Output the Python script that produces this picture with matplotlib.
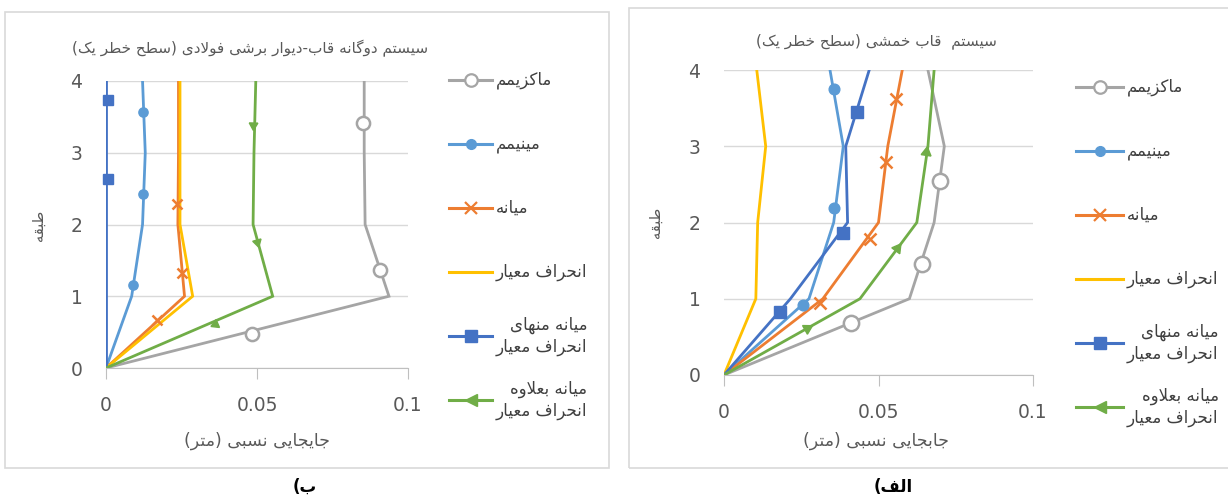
import math
import matplotlib
matplotlib.use("Agg")
import matplotlib.pyplot as plt
from matplotlib.lines import Line2D
from matplotlib.patches import Rectangle

plt.rcParams['font.family'] = ['DejaVu Sans']

# storey levels
floors = [0, 1, 2, 3, 4]

# panel (b): dual frame / steel plate shear wall system
b_max = [0, 0.0937, 0.0858, 0.0855, 0.0855]
b_min = [0, 0.0085, 0.0121, 0.0130, 0.0121]
b_med = [0, 0.0260, 0.0238, 0.0240, 0.0240]
b_std = [0, 0.0287, 0.0245, 0.0245, 0.0245]
b_msd = [0, 0, 0, 0, 0]
b_psd = [0, 0.0552, 0.0487, 0.0490, 0.0496]

# marker positions
b_max_mk = [(0.0483, 0.48), (0.0908, 1.37), (0.0852, 3.42)]
b_min_mk = [(0.0090, 1.15), (0.0122, 2.42), (0.0122, 3.57)]
b_med_mk = [(0.0170, 0.67), (0.0250, 1.32), (0.0236, 2.29)]
b_msd_mk = [(0.0008, 2.63), (0.0008, 3.73)]
b_psd_mk = [(0.0361, 0.61), (0.0499, 1.76), (0.0488, 3.39)]

# panel (a): moment frame system
a_max = [0, 0.0600, 0.0680, 0.0713, 0.0660]
a_min = [0, 0.0275, 0.0355, 0.0386, 0.0343]
a_med = [0, 0.0320, 0.0500, 0.0530, 0.0577]
a_std = [0, 0.0103, 0.0109, 0.0135, 0.0106]
a_msd = [0, 0.0215, 0.0400, 0.0394, 0.0470]
a_psd = [0, 0.0440, 0.0624, 0.0660, 0.0680]

a_max_mk = [(0.0411, 0.68), (0.0641, 1.46), (0.0699, 2.55)]
a_min_mk = [(0.0255, 0.92), (0.0357, 2.19), (0.0355, 3.75)]
a_med_mk = [(0.0311, 0.94), (0.0472, 1.78), (0.0523, 2.80), (0.0558, 3.62)]
a_msd_mk = [(0.0181, 0.83), (0.0384, 1.86), (0.0429, 3.45)]
a_psd_mk = [(0.0268, 0.61), (0.0559, 1.66), (0.0653, 2.92)]

labels = ['ماکزیمم', 'مینیمم', 'میانه', 'انحراف معیار',
          'میانه منهای\nانحراف معیار', 'میانه بعلاوه\nانحراف معیار']
colors = ['#A5A5A5', '#5B9BD5', '#ED7D31', '#FFC000', '#4472C4', '#70AD47']

title_b = 'سیستم دوگانه قاب-دیوار برشی فولادی (سطح خطر یک)'
title_a = 'سیستم  قاب خمشی (سطح خطر یک)'
xlabel_b = 'جایجایی نسبی (متر)'
xlabel_a = 'جابجایی نسبی (متر)'
ylabel = 'طبقه'
cap_b = 'ب)'
cap_a = 'الف)'

# --- minimal Persian shaping (matplotlib has no complex text layout) ---
FORMS = {
    'ا': ('\uFE8D', '\uFE8E', None, None),
    'ب': ('\uFE8F', '\uFE90', '\uFE91', '\uFE92'),
    'ت': ('\uFE95', '\uFE96', '\uFE97', '\uFE98'),
    'ج': ('\uFE9D', '\uFE9E', '\uFE9F', '\uFEA0'),
    'ح': ('\uFEA1', '\uFEA2', '\uFEA3', '\uFEA4'),
    'خ': ('\uFEA5', '\uFEA6', '\uFEA7', '\uFEA8'),
    'د': ('\uFEA9', '\uFEAA', None, None),
    'ر': ('\uFEAD', '\uFEAE', None, None),
    'ز': ('\uFEAF', '\uFEB0', None, None),
    'س': ('\uFEB1', '\uFEB2', '\uFEB3', '\uFEB4'),
    'ش': ('\uFEB5', '\uFEB6', '\uFEB7', '\uFEB8'),
    'ط': ('\uFEC1', '\uFEC2', '\uFEC3', '\uFEC4'),
    'ع': ('\uFEC9', '\uFECA', '\uFECB', '\uFECC'),
    'ف': ('\uFED1', '\uFED2', '\uFED3', '\uFED4'),
    'ق': ('\uFED5', '\uFED6', '\uFED7', '\uFED8'),
    'ک': ('\uFB8E', '\uFB8F', '\uFB90', '\uFB91'),
    'گ': ('\uFB92', '\uFB93', '\uFB94', '\uFB95'),
    'ل': ('\uFEDD', '\uFEDE', '\uFEDF', '\uFEE0'),
    'م': ('\uFEE1', '\uFEE2', '\uFEE3', '\uFEE4'),
    'ن': ('\uFEE5', '\uFEE6', '\uFEE7', '\uFEE8'),
    'ه': ('\uFEE9', '\uFEEA', '\uFEEB', '\uFEEC'),
    'و': ('\uFEED', '\uFEEE', None, None),
    'ی': ('\uFBFC', '\uFBFD', '\uFBFE', '\uFBFF'),
}


def dual(c):
    return c in FORMS and FORMS[c][2] is not None


def fa_line(s):
    res = []
    i = 0
    while i < len(s):
        c = s[i]
        jp = i > 0 and dual(s[i - 1])
        if c == 'ل' and i + 1 < len(s) and s[i + 1] == 'ا':
            res.append('\uFEFC' if jp else '\uFEFB')
            i += 2
            continue
        if c in FORMS:
            nxt = s[i + 1] if i + 1 < len(s) else ''
            jn = dual(c) and nxt in FORMS
            iso, fin, ini, med = FORMS[c]
            res.append(med if jp and jn else fin if jp else ini if jn else iso)
        else:
            res.append(c)
        i += 1
    return ''.join(reversed(res)).translate(str.maketrans('()', ')('))


def fa(s):
    return '\n'.join(fa_line(l) for l in s.split('\n'))


W, H = 1228, 499
fig = plt.figure(figsize=(W / 100, H / 100), dpi=100)


def fx(p):
    return p / W


def fy(p):
    return 1 - p / H


grey = '#595959'

# panel frames
for x0, y0, x1, y1 in [(5, 12, 609, 468), (629, 8, 1240, 468)]:
    fig.add_artist(Rectangle((fx(x0), fy(y1)), fx(x1 - x0), (y1 - y0) / H,
                             transform=fig.transFigure, fill=False,
                             ec='#D9D9D9', lw=1.2))


def draw_panel(ax, series, marks, down, mscale):
    ax.set_xlim(0, 0.1)
    ax.set_ylim(0, 4)
    ax.set_xticks([0, 0.05, 0.1], ['0', '0.05', '0.1'])
    ax.set_yticks(floors)
    ax.grid(axis='y', color='#D9D9D9', lw=1)
    ax.set_axisbelow(True)
    for s in ['top', 'right', 'left']:
        ax.spines[s].set_visible(False)
    ax.spines['bottom'].set_color('#BFBFBF')
    ax.tick_params(axis='x', length=8, color='#BFBFBF', labelcolor=grey,
                   labelsize=13.5, pad=12)
    ax.tick_params(axis='y', length=0, labelcolor=grey, labelsize=13.5, pad=17)
    for xs, col in zip(series, colors):
        ax.plot(xs, floors, color=col, lw=2.0, solid_joinstyle='miter')
    fig.canvas.draw()
    styles = [dict(marker='o', ms=10 * mscale, mfc='white', mec=colors[0], mew=1.8),
              dict(marker='o', ms=7 * mscale, mfc=colors[1], mec=colors[1]),
              dict(marker='x', ms=8 * mscale, mec=colors[2], mew=1.8),
              None,
              dict(marker='s', ms=7.5 * mscale, mfc=colors[4], mec=colors[4]),
              None]
    for k, pts in enumerate(marks):
        if k == 5:
            xs = series[5]
            for px, py in pts:
                j = min(int(py), 3)
                p0 = ax.transData.transform((xs[j], floors[j]))
                p1 = ax.transData.transform((xs[j + 1], floors[j + 1]))
                dx, dy = p1[0] - p0[0], p1[1] - p0[1]
                if down:
                    dx, dy = -dx, -dy
                ang = math.degrees(math.atan2(dy, dx)) - 90
                ax.plot([px], [py], marker=(3, 0, ang), ms=7.5 * mscale,
                        color=colors[5], clip_on=False, zorder=5)
        elif pts:
            ax.plot([p[0] for p in pts], [p[1] for p in pts], ls='none',
                    clip_on=False, zorder=5, **styles[k])


axL = fig.add_axes([fx(106), fy(368), 302 / W, 287 / H])
axR = fig.add_axes([fx(724), fy(375), 309 / W, 305 / H])

draw_panel(axL, [b_max, b_min, b_med, b_std, b_msd, b_psd],
           [b_max_mk, b_min_mk, b_med_mk, None, b_msd_mk, b_psd_mk], True, 0.95)
draw_panel(axR, [a_max, a_min, a_med, a_std, a_msd, a_psd],
           [a_max_mk, a_min_mk, a_med_mk, None, a_msd_mk, a_psd_mk], False, 1.1)

# titles, axis labels, captions
fig.text(fx(250), fy(48), fa(title_b), ha='center', va='center', color=grey, fontsize=11)
fig.text(fx(876), fy(41), fa(title_a), ha='center', va='center', color=grey, fontsize=11)
fig.text(fx(257), fy(441), fa(xlabel_b), ha='center', va='center', color=grey, fontsize=12.5)
fig.text(fx(876), fy(441), fa(xlabel_a), ha='center', va='center', color=grey, fontsize=12.5)
fig.text(fx(38), fy(225), fa(ylabel), ha='center', va='center', color=grey,
         fontsize=10.5, rotation=90)
fig.text(fx(655), fy(222), fa(ylabel), ha='center', va='center', color=grey,
         fontsize=10.5, rotation=90)
fig.text(fx(305), fy(487), fa(cap_b), ha='center', va='center', color='black',
         fontsize=12, fontweight='bold')
fig.text(fx(893), fy(487), fa(cap_a), ha='center', va='center', color='black',
         fontsize=12, fontweight='bold')

# legends drawn beside each panel
leg_styles = [dict(marker='o', ms=9, mfc='white', mec=colors[0], mew=1.6),
              dict(marker='o', ms=7, mfc=colors[1], mec=colors[1]),
              dict(marker='x', ms=9, mec=colors[2], mew=1.6),
              None,
              dict(marker='s', ms=8, mfc=colors[4], mec=colors[4]),
              dict(marker='<', ms=8, mfc=colors[5], mec=colors[5])]
for x0, x1, y_top in [(449, 492, 80), (1076, 1123, 87)]:
    for k, (lab, col, st) in enumerate(zip(labels, colors, leg_styles)):
        y = y_top + 64 * k
        fig.add_artist(Line2D([fx(x0), fx(x1)], [fy(y), fy(y)], color=col, lw=2.2,
                              transform=fig.transFigure))
        if st:
            fig.add_artist(Line2D([fx((x0 + x1) / 2)], [fy(y)], ls='none',
                                  transform=fig.transFigure, **st))
        fig.text(fx(x1 + 4), fy(y), fa(lab), ha='left', va='center', color='#404040',
                 fontsize=12, multialignment='right', linespacing=1.25)

fig.savefig('out.png', dpi=100)
